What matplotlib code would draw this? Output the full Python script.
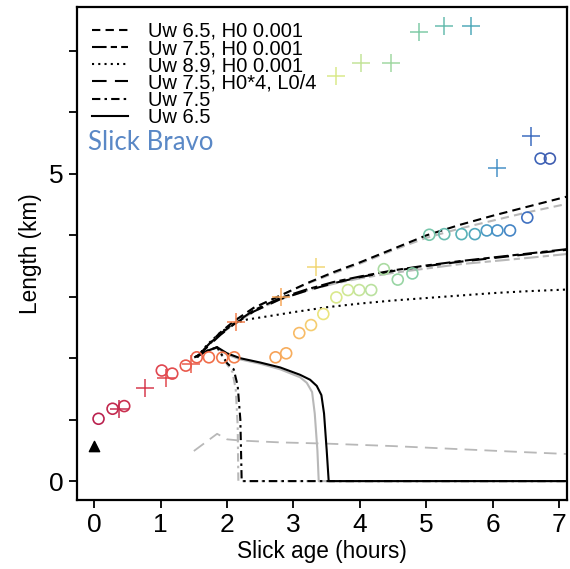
import numpy as np
import matplotlib.pyplot as plt
from matplotlib.colors import LinearSegmentedColormap, Normalize

# observed slick length, circles and crosses
circ_t = [0.065, 0.276, 0.452, 1.017, 1.175, 1.378, 1.544, 1.727, 1.928, 2.108,
          2.73, 2.89, 3.087, 3.264, 3.449, 3.645, 3.82, 3.99, 4.17, 4.36, 4.57, 4.79,
          5.045, 5.27, 5.53, 5.73, 5.91, 6.07, 6.26, 6.52, 6.72, 6.86]
circ_L = [1.015, 1.178, 1.221, 1.80, 1.75, 1.88, 2.015, 2.015, 2.01, 2.015,
          2.015, 2.08, 2.41, 2.54, 2.72, 2.99, 3.11, 3.11, 3.11, 3.45, 3.28, 3.38,
          4.01, 4.02, 4.02, 4.02, 4.08, 4.08, 4.08, 4.29, 5.25, 5.25]
plus_t = [0.38, 0.77, 1.08, 1.46, 2.13, 2.81, 3.34, 3.64, 4.01, 4.47, 4.89, 5.26, 5.67, 6.07, 6.58]
plus_L = [1.17, 1.51, 1.68, 1.90, 2.59, 2.99, 3.49, 6.60, 6.80, 6.80, 7.31, 7.41, 7.41, 5.10, 5.61]
tri_t, tri_L = [0.0], [0.57]

# model runs
t_a = [1.55, 1.7, 1.9, 2.1, 2.4, 2.8, 3.2, 3.6, 4.0, 4.5, 5.0, 5.5, 6.0, 6.5, 7.15]
uw65_h0 = [2.02, 2.2, 2.42, 2.6, 2.82, 3.02, 3.22, 3.40, 3.56, 3.78, 4.0, 4.17, 4.32, 4.46, 4.64]
uw65_h0_g = [2.02, 2.2, 2.42, 2.6, 2.82, 3.02, 3.21, 3.38, 3.54, 3.76, 3.96, 4.11, 4.24, 4.37, 4.52]
uw75_h0 = [2.02, 2.2, 2.4, 2.56, 2.78, 2.98, 3.12, 3.24, 3.33, 3.43, 3.51, 3.58, 3.64, 3.70, 3.78]
uw75_h0_g = [2.02, 2.19, 2.39, 2.55, 2.76, 2.96, 3.10, 3.21, 3.30, 3.39, 3.46, 3.53, 3.58, 3.63, 3.70]
uw75_h4 = [2.02, 2.18, 2.38, 2.55, 2.76, 2.96, 3.10, 3.22, 3.32, 3.42, 3.50, 3.57, 3.63, 3.69, 3.77]
t_d = [1.55, 1.7, 1.9, 2.1, 2.3, 2.6, 3.0, 3.5, 4.0, 4.5, 5.0, 5.5, 6.0, 6.5, 7.15]
uw89_h0 = [2.02, 2.22, 2.42, 2.56, 2.63, 2.68, 2.75, 2.83, 2.89, 2.94, 2.98, 3.02, 3.06, 3.09, 3.12]
t_low = [1.5, 1.85, 2.0, 2.2, 2.8, 3.5, 4.5, 5.5, 6.5, 7.15]
uw75_h4_g = [0.49, 0.77, 0.68, 0.66, 0.63, 0.61, 0.57, 0.52, 0.47, 0.44]
t_s = [1.52, 1.7, 1.85, 2.0, 2.2, 2.5, 2.8, 3.1, 3.25, 3.35, 3.42, 3.46, 3.5, 3.53, 7.15]
uw65 = [2.02, 2.12, 2.18, 2.08, 2.0, 1.93, 1.85, 1.73, 1.65, 1.55, 1.40, 1.1, 0.5, 0.0, 0.0]
t_sg = [1.52, 1.7, 1.85, 2.0, 2.2, 2.5, 2.8, 3.1, 3.2, 3.28, 3.32, 3.36, 3.38, 7.15]
uw65_g = [2.02, 2.12, 2.17, 2.06, 1.98, 1.91, 1.82, 1.69, 1.6, 1.45, 1.1, 0.5, 0.0, 0.0]
t_dd = [1.52, 1.7, 1.85, 2.0, 2.1, 2.16, 2.2, 2.22, 7.15]
uw75 = [2.02, 2.12, 2.18, 1.92, 1.82, 1.55, 1.0, 0.0, 0.0]
t_ddg = [1.52, 1.7, 1.85, 2.0, 2.08, 2.13, 2.16, 2.17, 3.5]
uw75_g = [2.02, 2.12, 2.17, 1.90, 1.78, 1.5, 0.9, 0.0, 0.0]

ls_a = (0, (4, 2.5))
ls_b = (0, (7, 2, 3, 2))
ls_c = (0, (1, 2))
ls_d = (0, (7, 4))
ls_e = (0, (4, 2, 1.2, 2))
grey = '#b8b8b8'

# colour ramp along slick age
age_stops = [0.0, 1.0, 1.7, 2.7, 3.2, 3.45, 3.7, 4.2, 4.9, 5.6, 6.1, 6.6, 7.0]
age_cols = ['#b8204f', '#e04550', '#f06a48', '#f7a055', '#f8c46c', '#ece47c', '#d6ea90',
            '#b8e0a0', '#80cca8', '#55b0b8', '#4890c8', '#3f6cc0', '#3f55a8']
cmap = LinearSegmentedColormap.from_list('age', list(zip(np.array(age_stops) / 7.0, age_cols)))
norm = Normalize(0, 7.0)

plt.rcParams['font.family'] = ['Liberation Sans', 'DejaVu Sans']
fig = plt.figure(figsize=(5.7, 5.69), dpi=100)
ax = fig.add_axes([0.135, 0.121, 0.86, 0.867])

# grey companion runs underneath
ax.plot(t_a, uw65_h0_g, color=grey, ls=ls_a, lw=1.5)
ax.plot(t_a, uw75_h0_g, color=grey, ls=ls_b, lw=1.5)
ax.plot(t_low, uw75_h4_g, color=grey, ls=ls_d, lw=1.3)
ax.plot(t_sg, uw65_g, color=grey, ls='-', lw=1.5)
ax.plot(t_ddg, uw75_g, color=grey, ls=ls_e, lw=1.5)

ax.plot(t_a, uw65_h0, color='k', ls=ls_a, lw=1.5, label='Uw 6.5, H0 0.001')
ax.plot(t_a, uw75_h0, color='k', ls=ls_b, lw=1.5, label='Uw 7.5, H0 0.001')
ax.plot(t_d, uw89_h0, color='k', ls=ls_c, lw=1.5, label='Uw 8.9, H0 0.001')
ax.plot(t_a, uw75_h4, color='k', ls=ls_d, lw=1.5, label='Uw 7.5, H0*4, L0/4')
ax.plot(t_dd, uw75, color='k', ls=ls_e, lw=1.5, label='Uw 7.5')
ax.plot(t_s, uw65, color='k', ls='-', lw=1.5, label='Uw 6.5')

ax.scatter(circ_t, circ_L, s=62, facecolors='none', edgecolors=cmap(norm(np.array(circ_t))),
           linewidths=1.2, zorder=3)
ax.scatter(plus_t, plus_L, s=170, marker='+', c=cmap(norm(np.array(plus_t))),
           linewidths=1.1, zorder=3)
ax.scatter(tri_t, tri_L, s=55, marker='^', color='k', zorder=4)

ax.set_xlim(-0.26, 7.12)
ax.set_ylim(-0.31, 7.72)
ax.set_xticks(range(0, 8))
ax.set_yticks(range(0, 8))
ax.set_yticklabels(['0', '', '', '', '', '5', '', ''])
ax.tick_params(labelsize=19, width=1.3, length=6, direction='out')
for s in ax.spines.values():
    s.set_linewidth(1.6)
ax.set_xlabel('Slick age (hours)', fontsize=16.3, labelpad=2)
ax.set_ylabel('Length (km)', fontsize=16.3, labelpad=5)

ax.legend(loc='upper left', frameon=False, fontsize=14.5, handlelength=1.8,
          labelspacing=-0.09, handletextpad=1.0, borderaxespad=0.35, borderpad=0.4,
          bbox_to_anchor=(0.0, 1.0))
ax.text(0.022, 0.725, 'Slick Bravo', transform=ax.transAxes, fontsize=18.5, va='center',
        family='Lato', color='#5a88c6')

fig.savefig('out.png')
